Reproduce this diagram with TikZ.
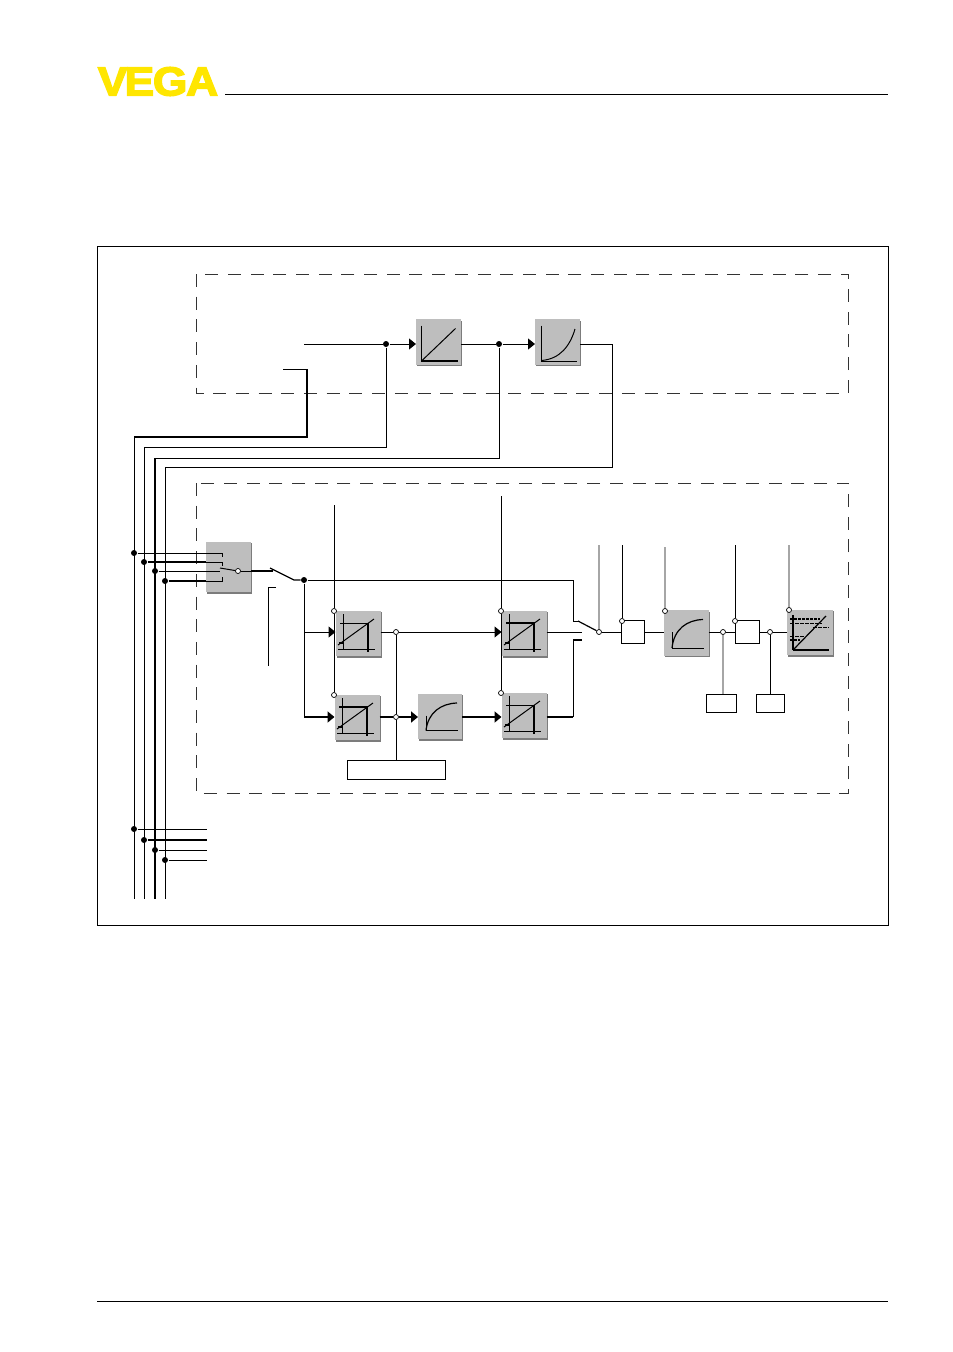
\documentclass[tikz,border=0pt]{standalone}
\usepackage{fontspec}
\usetikzlibrary{arrows.meta,positioning,calc}
\newfontfamily\logofont[BoldFeatures={FakeBold=3.5},Kerning=Off]{Liberation Sans}
\definecolor{logoyellow}{HTML}{FFE600}
\definecolor{blockgray}{HTML}{BEBEBE}
\definecolor{blockshade}{HTML}{7C7C7C}
\definecolor{paleline}{HTML}{A6A6A6}
\definecolor{frameline}{HTML}{333333}

\begin{document}
\begin{tikzpicture}[
  x=1pt,y=-1pt,line width=1pt,
  block/.style={fill=blockgray,inner sep=0pt,outer sep=0pt,minimum width=45pt,minimum height=45.5pt,
    preaction={fill=blockshade,transform canvas={shift={(1.3pt,-1.3pt)}}}},
  plain/.style={draw,fill=white,inner sep=0pt,outer sep=0pt},
  dot/.style={circle,fill=black,inner sep=0pt,minimum size=6pt},
  ring/.style={circle,draw,fill=white,line width=0.7pt,inner sep=0pt,minimum size=5pt},
  arrow/.style={-{Triangle[length=7pt,width=11pt]}},
  heavy/.style={line width=2.4pt},
  pale/.style={draw=paleline,line width=1.2pt},
  zone/.style={draw=frameline,line width=1pt,dash pattern=on 13pt off 9.7pt}
]
\useasboundingbox (0,0) rectangle (953,1352);

% page furniture
\node[inner sep=0pt,text=logoyellow,xscale=1.09,font=\logofont\fontsize{40.5}{40.5}\selectfont\bfseries] (logo) at (158,81.5) {V\kern-2.5pt E\kern-1pt G\kern-1pt A};
\coordinate (headL) at (225,94.5);
\coordinate (headR) at (888,94.5);
\coordinate (footL) at (97,1301);
\coordinate (footR) at (888,1301);
\draw (headL) -- (headR);
\draw (footL) -- (footR);
\draw[line width=0.9pt] (97,246) rectangle (888,925);
\draw[zone] (196,274) rectangle (848.5,393);
\draw[zone] (196,483) rectangle (848.5,793);

% blocks
\node[block] (linear) at (438.5,342) {};
\node[block] (square) at (557.5,342) {};
\node[block,minimum height=50.5pt] (selector) at (228.5,567) {};
\node[block] (ctrlA) at (358,633.5) {};
\node[block] (ctrlB) at (357,717.5) {};
\node[block,minimum width=44pt] (rootA) at (440,716.5) {};
\node[block] (ctrlC) at (524,633.5) {};
\node[block] (ctrlD) at (524,715.5) {};
\node[block] (rootB) at (686,633) {};
\node[block,minimum width=46pt] (limit) at (810,632.5) {};
\node[plain,minimum width=23pt,minimum height=23pt] (smallA) at (632.5,632) {};
\node[plain,minimum width=24pt,minimum height=23pt] (smallB) at (747,632) {};
\node[plain,minimum width=30pt,minimum height=18pt] (tagA) at (721,703) {};
\node[plain,minimum width=28pt,minimum height=18pt] (tagB) at (770,703) {};
\node[plain,minimum width=98pt,minimum height=19pt] (tagC) at (396,769.5) {};

% junctions
\foreach \name/\x/\y in {hubA/386/344,hubB/499/344,busA/134/553,busB/144/562,busC/155/571,busD/165/581,
  tapA/134/829,tapB/144/840,tapC/155/850,tapD/165/860,hubC/304/580}
  \node[dot] (\name) at (\x,\y) {};
\foreach \name/\x/\y in {ringA/334/611,ringB/334/695,ringC/396/632,ringD/396/717,ringE/501/611,ringF/501/693,
  ringG/599/632,ringH/622/621,ringI/665/611,ringJ/723/632,ringK/735/621,ringL/770/632,ringM/789/610,ringN/238/571}
  \node[ring] (\name) at (\x,\y) {};

% free ends
\foreach \name/\x/\y in {feedIn/304/344,railTop/134/437,railEnd/134/899,railbTop/144/447,railbEnd/144/899,
  railcTop/155/458,railcEnd/155/899,raildTop/165/467,raildEnd/165/899,limitIn/283/369,limitTurn/307/369,
  loopTurn/612/344,armIn/270/568,armHeel/273/571,armOut/294/580,markTop/276/587,markTurn/268/587,markEnd/268/666,
  setA/334/505,setE/501/496,setG/599/545,setH/622/545,setI/665/547,setK/735/545,setM/789/545,
  branchUp/304/632,branchLow/304/717,pickTop/573/580,pickTurn/573/621,pickArm/578/621,pickLow/582/632,
  stubEnd/582/640,stubTurn/573/640,lowTurn/573/717}
  \coordinate (\name) at (\x,\y);

% upper loop
\draw[arrow] (feedIn) -- (hubA) -- (linear.west |- hubA);
\draw[arrow] (linear.east |- hubB) -- (hubB) -- (square.west |- hubB);
\draw (hubA) |- (railbTop) -- (railbEnd);
\draw (hubB) |- (railcTop) -- (railcEnd);
\draw (square.east |- loopTurn) -- (loopTurn) |- (raildTop) -- (raildEnd);
\draw (limitIn) -- (limitTurn);
\draw[heavy] (limitTurn) |- (railTop);
\draw (railTop) -- (railEnd);
\draw[heavy] (railcTop) -- (railcEnd);

% bus lines
\foreach \name/\w in {busA/1,busB/2.4,busC/1,busD/2.4}
  \draw[line width=\w pt] (\name) -- (\name -| selector.west);
\foreach \name/\w in {tapA/1,tapB/2.4,tapC/1,tapD/1}
  \draw[line width=\w pt] (\name) -- (207,0 |- \name);
\draw (selector.west |- busA) -- (222,553) -- (222,557);
\draw (selector.west |- busB) -- (222,562) -- (222,566);
\draw (selector.west |- busC) -- (220,571);
\draw (selector.west |- busD) -- (222,581) -- (222,577);
\draw (220,568) -- (ringN);
\draw (ringN) -- (ringN -| selector.east);
\draw[heavy] (ringN -| selector.east) -- (armHeel);
\draw[line width=1.2pt] (armIn) -- (armOut) -- (hubC);
\draw (markTop) -- (markTurn) -- (markEnd);

% measuring branch
\draw (hubC) -- (branchLow);
\draw[arrow] (branchUp) -- (ctrlA.west |- branchUp);
\draw[arrow,heavy] (branchLow) -- (ctrlB.west |- branchLow);
\draw (hubC) -- (pickTop) -- (pickTurn) -- (pickArm);
\draw[line width=1.2pt] (pickArm) -- (ringG);
\draw (setA) -- (ringA);
\draw (ringA) -- (ringB);
\draw (setE) -- (ringE);
\draw (ringE) -- (ringF);
\draw (ctrlA.east |- ringC) -- (ringC);
\draw[arrow] (ringC) -- (ctrlC.west |- ringC);
\draw (ringC) -- (ringD);
\draw (ringD) -- (tagC.north);
\draw[heavy] (ctrlB.east |- ringD) -- (ringD);
\draw[arrow,heavy] (ringD) -- (rootA.west |- ringD);
\draw[arrow,heavy] (rootA.east |- ringD) -- (ctrlD.west |- ringD);
\draw (ctrlC.east |- ringC) -- (pickLow);
\draw[heavy] (ctrlD.east |- lowTurn) -- (lowTurn);
\draw (lowTurn) -- (stubTurn);
\draw[heavy] (stubTurn) -- (stubEnd);

% output chain
\draw (ringG) -- (smallA.west);
\draw (smallA.east) -- (rootB.west |- smallA);
\draw (rootB.east |- ringJ) -- (ringJ);
\draw (ringJ) -- (smallB.west);
\draw (smallB.east) -- (ringL);
\draw (ringL) -- (limit.west |- ringL);
\draw (ringL) -- (tagB.north -| ringL);
\draw[pale] (ringJ) -- (tagA.north -| ringJ);
\draw[pale] (setG) -- (ringG);
\draw (setH) -- (ringH);
\draw[pale] (setI) -- (ringI);
\draw (setK) -- (ringK);
\draw[pale] (setM) -- (ringM);

% block graphs
\begin{scope}[shift={(linear.center)}]
  \draw[line width=1.3pt] (-17,-16.5) -- (-17,19) -- (19,19);
  \draw (-17,19) -- (17,-13.5);
\end{scope}
\begin{scope}[shift={(square.center)}]
  \draw (-16,-16.5) -- (-16,19.5) -- (19,19.5);
  \draw (-16,18.5) .. controls (2.5,17) and (12.5,4) .. (17.5,-13);
\end{scope}
\foreach \name/\topw in {ctrlA/1,ctrlB/2.2,ctrlC/1.6,ctrlD/1} {
  \begin{scope}[shift={(\name.center)}]
    \draw (-15,-19.5) -- (-15,15.5);
    \draw (-20,15.5) -- (17,15.5);
    \draw (-20,11.5) -- (16,-14.5);
    \draw[line width=\topw pt] (-18,-10.5) -- (11,-10.5);
    \draw[line width=2pt] (10,-10.5) -- (10,18.5);
    \draw[line width=2pt] (-19,9.5) -- (-14,9.5);
  \end{scope}
}
\foreach \name/\u in {rootA/14,rootB/15} {
  \begin{scope}[shift={(\name.center)}]
    \draw (-14,-1) -- (-14,\u) -- (18,\u);
    \draw[line width=1.2pt] (-14,\u) .. controls (-12,-4) and (1,-13) .. (17,-13.5);
  \end{scope}
}
\begin{scope}[shift={(limit.center)}]
  \draw[line width=1.2pt] (-17,-17.5) -- (-17,17.5);
  \draw[line width=2pt] (-17,17.5) -- (19,17.5);
  \draw[line width=1.2pt] (-17,17.5) -- (16,-16.5);
  \draw[line width=1.7pt,dash pattern=on 3pt off 1pt] (-20,-13.5) -- (10,-13.5);
  \draw[dash pattern=on 4pt off 1pt] (-20,-9.5) -- (12,-9.5);
  \draw[dash pattern=on 4pt off 1pt] (3,-5.5) -- (19,-5.5);
  \draw[dash pattern=on 4pt off 1pt] (-20,3.5) -- (-5,3.5);
  \draw[line width=1.7pt,dash pattern=on 3pt off 1pt] (-20,7.5) -- (-10,7.5);
\end{scope}
\end{tikzpicture}
\end{document}
